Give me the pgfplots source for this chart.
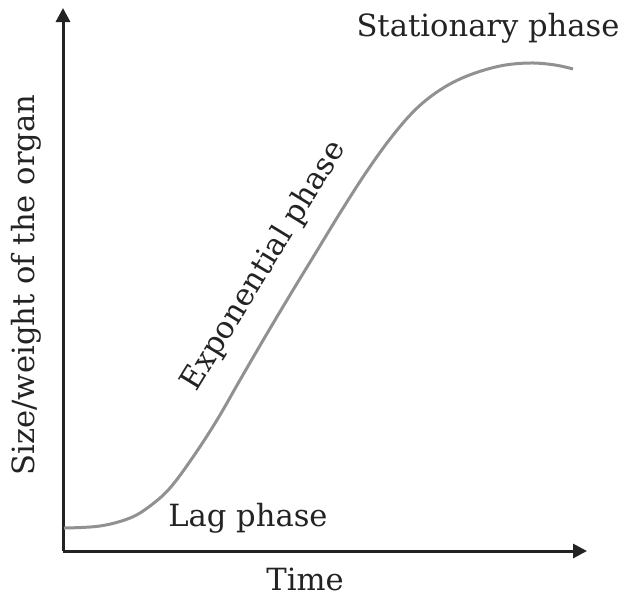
\documentclass[border=0pt]{standalone}
\usepackage{fontspec}
\setmainfont{DejaVu Serif}
\usepackage{pgfplots}
\pgfplotsset{compat=1.18}
\usetikzlibrary{arrows.meta}
\definecolor{curvegray}{RGB}{145,145,145}
\definecolor{txt}{RGB}{35,35,35}
\tikzset{lbl/.style={font=\fontsize{15.3}{18}\selectfont, text=txt, inner sep=0pt}}
\begin{document}
\begin{tikzpicture}
\begin{axis}[
  x=0.5pt, y=0.5pt,
  xmin=63, xmax=587, ymin=45, ymax=588,
  axis lines=left,
  axis line style={line width=1.5pt, color=txt, -{Triangle[length=7pt,width=7pt]}},
  xtick=\empty, ytick=\empty,
  clip=false,
]
\path (axis cs:0,0) rectangle (axis cs:624,596);
\addplot[curvegray, line width=1.5pt, smooth, tension=0.6] coordinates {
(64,68) (100,70) (130,78) (150,90) (170,108) (193,139) (217,176) (240,216)
(265,259) (290,301) (315,342) (340,383) (365,422) (390,457) (415,486)
(440,506) (467,520) (500,530) (530,533) (555,531) (573,527)
};
\node[lbl] at (axis cs:488,568) {Stationary phase};
\node[lbl, rotate=58.6] at (axis cs:264,330) {Exponential phase};
\node[lbl] at (axis cs:248,78) {Lag phase};
\node[lbl] at (axis cs:305,17) {Time};
\node[lbl, rotate=90] at (axis cs:26,311) {Size/weight of the organ};
\end{axis}
\end{tikzpicture}
\end{document}
